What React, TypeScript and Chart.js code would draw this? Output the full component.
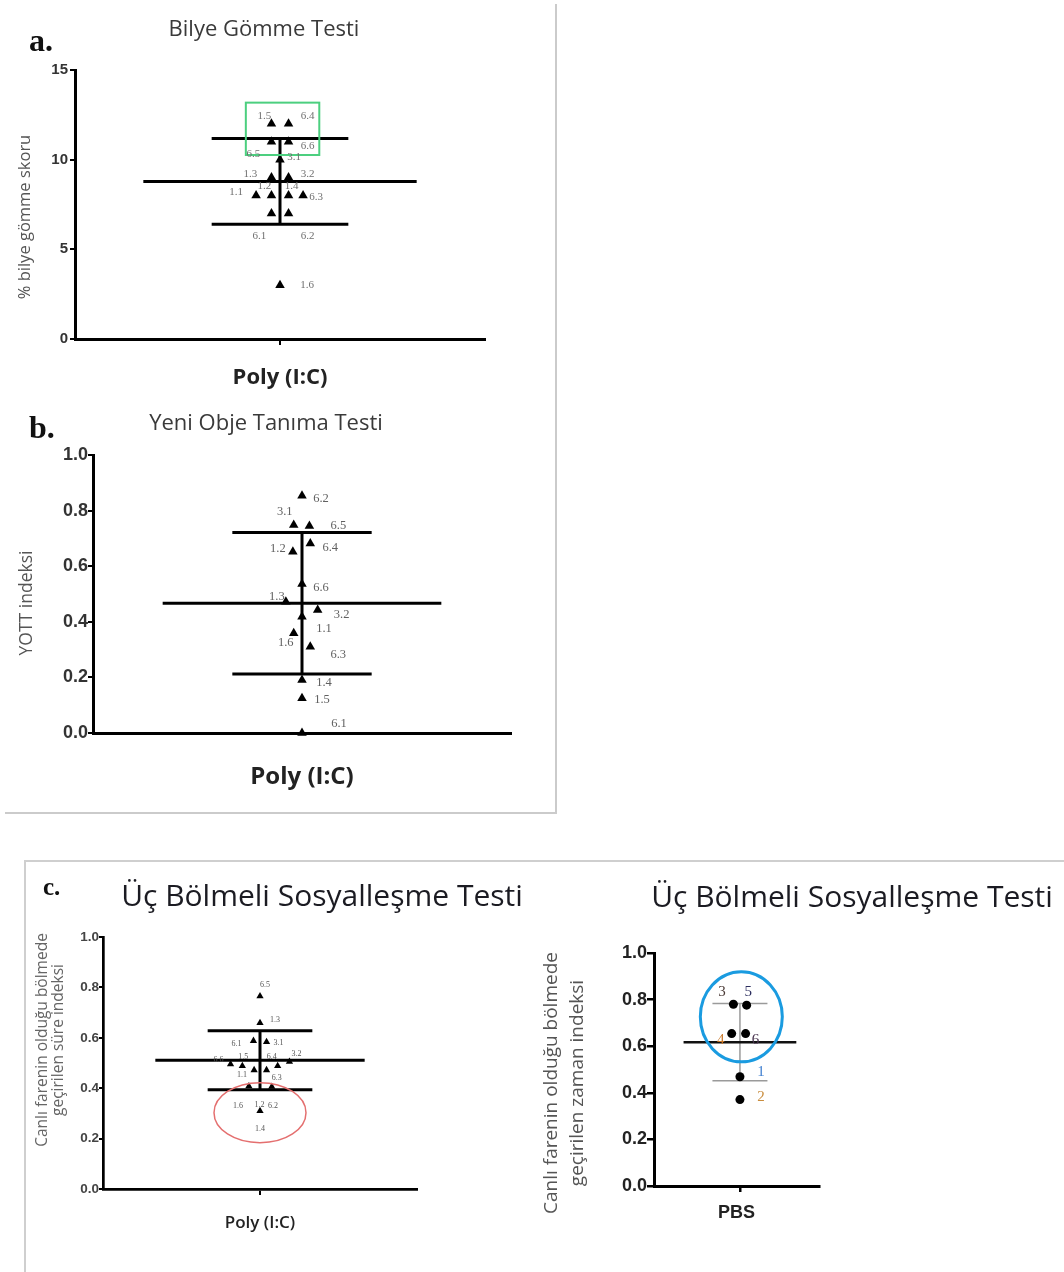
import React, { useEffect, useRef } from 'react';
import { Chart, registerables } from 'chart.js';

Chart.register(...registerables);

// ---------------- DATA ----------------
// a. Bilye Gömme Testi
const A_TITLE = 'Bilye Gömme Testi';
const A_CATEGORY = 'Poly (I:C)';
const A_Y_TITLE = ['% bilye gömme skoru'];
const A_IDS = ['1.5', '6.4', '6.5', '6.6', '3.1', '1.3', '3.2', '1.1', '1.2', '1.4', '6.3', '6.1', '6.2', '1.6'];
const A_VALUES = [12, 12, 11, 11, 10, 9, 9, 8, 8, 8, 8, 7, 7, 3];
const A_JITTER = [-1, 1, -1, 1, 0, -1, 1, -2.8, -1, 1, 2.7, -1, 1, 0];
const A_Y_TICKS = [0, 5, 10, 15];

// b. Yeni Obje Tanıma Testi
const B_TITLE = 'Yeni Obje Tanıma Testi';
const B_CATEGORY = 'Poly (I:C)';
const B_Y_TITLE = ['YOTT indeksi'];
const B_IDS = ['6.2', '3.1', '6.5', '1.2', '6.4', '6.6', '1.3', '3.2', '1.1', '1.6', '6.3', '1.4', '1.5', '6.1'];
const B_VALUES = [0.853, 0.748, 0.745, 0.652, 0.682, 0.536, 0.472, 0.442, 0.418, 0.359, 0.31, 0.191, 0.125, 0];
const B_JITTER = [0, -0.95, 0.85, -1.05, 0.95, 0, -1.85, 1.8, 0, -0.95, 0.95, 0, 0, 0];
const B_Y_TICKS = [0, 0.2, 0.4, 0.6, 0.8, 1.0];

// c. Üç Bölmeli Sosyalleşme Testi — Poly (I:C)
const C_TITLE = 'Üç Bölmeli Sosyalleşme Testi';
const C_CATEGORY = 'Poly (I:C)';
const C_Y_TITLE = ['Canlı farenin olduğu bölmede', 'geçirilen süre indeksi'];
const C_IDS = ['6.5', '1.3', '6.1', '3.1', '6.6', '1.5', '6.4', '3.2', '1.1', '1.2', '1.6', '6.3', '1.4'];
const C_EXTRA_IDS = ['6.2'];
const C_VALUES = [0.765, 0.659, 0.588, 0.584, 0.495, 0.488, 0.488, 0.505, 0.472, 0.472, 0.408, 0.406, 0.31];
const C_JITTER = [0, 0, -1, 1, -4.5, -2.7, 2.7, 4.5, -0.9, 1, -1.7, 1.8, 0];
const C_Y_TICKS = [0, 0.2, 0.4, 0.6, 0.8, 1.0];

// c. Üç Bölmeli Sosyalleşme Testi — PBS
const D_TITLE = 'Üç Bölmeli Sosyalleşme Testi';
const D_CATEGORY = 'PBS';
const D_Y_TITLE = ['Canlı farenin olduğu bölmede', 'geçirilen zaman indeksi'];
const D_IDS = ['3', '5', '4', '6', '1', '2'];
const D_VALUES = [0.78, 0.776, 0.654, 0.654, 0.469, 0.371];
const D_JITTER = [-1.9, 1.95, -2.4, 1.65, 0, 0];
const D_Y_TICKS = [0, 0.2, 0.4, 0.6, 0.8, 1.0];

// ---------------- LAYOUT / STYLE ----------------
const A_LABEL_OFFSETS: [number, number][] = [[-7, -8], [19, -8], [-18, 12], [19, 4], [14, -3], [-21, -3], [19, -3], [-20, -3], [-7, -9], [3, -9], [13, 2], [-12, 23], [19, 23], [27, 0]];
const B_LABEL_OFFSETS: [number, number][] = [[19, 3], [-9, -13], [29, 0], [-15, -3], [20, 4], [19, 4], [-9, -5], [24, 5], [22, 12], [-8, 10], [28, 8], [22, 3], [20, 1], [37, -9]];
const C_LABEL_OFFSETS: [number, number][] = [[5, -11], [15, -3], [-17, 3], [12, 1], [-12, -4], [1, -9], [-6, -9], [7, -8], [-12, 5], [-7, 35], [-11, 20], [5, -9], [0, 18]];
const C_EXTRA_POS: { point: number; dx: number; dy: number }[] = [{ point: 12, dx: 13, dy: -5 }];
const D_LABEL_OFFSETS: [number, number][] = [[-11.5, -12.3], [1.5, -13.3], [-11, 6.7], [10, 6.7], [21, -5], [21, -2.6]];
const D_LABEL_COLORS = ['#4a3a36', '#2b2d5e', '#c8782a', '#4a3550', '#3f7fd0', '#c98c3c'];

type Spec = {
  left: number; top: number; width: number; height: number;
  title: string; titleFont: any; titleColor: string; titlePad: { top: number; bottom: number };
  category: string; xLabelFont: any; xLabelColor: string;
  yTitle: string[]; yTitleX: number[]; yTitleCy: number; yTitleFont: string; yTitleColor: string;
  values: number[]; jitter: number[]; ids: string[]; labelOffsets: [number, number][];
  labelColors?: string[]; labelFont: string; labelColor: string;
  extra?: { text: string; point: number; dx: number; dy: number }[];
  yMax: number; yTicks: number[]; decimals: number;
  xMin: number; xMax: number; meanHalf: number; sdHalf: number;
  yAxisWidth: number; rightPad: number; xAxisHeight: number; bottomPad: number;
  tickFont: any; tickColor: string; tickPadding: number; tickLen: number; tickWidth: number;
  axisWidth: number; xCenterTick: boolean;
  pointStyle: string; pointRadius: number;
  meanWidth: number; meanColor: string; sdWidth: number; sdColor: string;
  ellipse?: { cx: number; cy: number; rx: number; ry: number; color: string; width: number };
  rect?: { x0: number; x1: number; y0: number; y1: number; color: string; width: number };
};

const decorPlugin = {
  id: 'panelDecor',
  afterDatasetsDraw(chart: any, _args: any, opts: any) {
    const spec: Spec | undefined = opts && opts.spec;
    if (!spec) return;
    const ctx = chart.ctx;
    const xs = chart.scales.x;
    const ys = chart.scales.y;
    if (spec.rect) {
      const r = spec.rect;
      const x0 = xs.getPixelForValue(r.x0), x1 = xs.getPixelForValue(r.x1);
      const y0 = ys.getPixelForValue(r.y0), y1 = ys.getPixelForValue(r.y1);
      ctx.save();
      ctx.strokeStyle = r.color;
      ctx.lineWidth = r.width;
      ctx.strokeRect(x0, y1, x1 - x0, y0 - y1);
      ctx.restore();
    }
    if (spec.ellipse) {
      const e = spec.ellipse;
      ctx.save();
      ctx.strokeStyle = e.color;
      ctx.lineWidth = e.width;
      ctx.beginPath();
      ctx.ellipse(xs.getPixelForValue(e.cx), ys.getPixelForValue(e.cy), e.rx, e.ry, 0, 0, Math.PI * 2);
      ctx.stroke();
      ctx.restore();
    }
    const meta = chart.getDatasetMeta(0);
    ctx.save();
    ctx.font = spec.labelFont;
    ctx.textAlign = 'center';
    ctx.textBaseline = 'middle';
    spec.ids.forEach((t, i) => {
      const el = meta.data[i];
      if (!el) return;
      const off = spec.labelOffsets[i] || [10, 0];
      ctx.fillStyle = spec.labelColors ? spec.labelColors[i] : spec.labelColor;
      ctx.fillText(t, el.x + off[0], el.y + off[1]);
    });
    (spec.extra || []).forEach((e) => {
      const el = meta.data[e.point];
      if (!el) return;
      ctx.fillStyle = spec.labelColor;
      ctx.fillText(e.text, el.x + e.dx, el.y + e.dy);
    });
    ctx.restore();
  },
  afterDraw(chart: any, _args: any, opts: any) {
    const spec: Spec | undefined = opts && opts.spec;
    if (!spec) return;
    const ctx = chart.ctx;
    ctx.save();
    ctx.font = spec.yTitleFont;
    ctx.fillStyle = spec.yTitleColor;
    ctx.textAlign = 'center';
    ctx.textBaseline = 'middle';
    spec.yTitle.forEach((line, i) => {
      ctx.save();
      ctx.translate(spec.yTitleX[i], spec.yTitleCy);
      ctx.rotate(-Math.PI / 2);
      ctx.fillText(line, 0, 0);
      ctx.restore();
    });
    ctx.restore();
  },
};

function buildConfig(spec: Spec): any {
  const n = spec.values.length;
  const mean = spec.values.reduce((a, b) => a + b, 0) / n;
  const sd = Math.sqrt(spec.values.reduce((a, b) => a + (b - mean) * (b - mean), 0) / (n - 1));
  const points = spec.values.map((v, i) => ({ x: spec.jitter[i], y: v }));
  const lineDs = (data: any[], color: string, width: number) => ({
    data, showLine: true, pointRadius: 0, borderColor: color, borderWidth: width, clip: false, borderCapStyle: 'butt',
  });
  return {
    type: 'scatter',
    data: {
      datasets: [
        { data: points, pointStyle: spec.pointStyle, pointRadius: spec.pointRadius, backgroundColor: '#000', borderColor: '#000', borderWidth: 0, clip: false },
        lineDs([{ x: -spec.meanHalf, y: mean }, { x: spec.meanHalf, y: mean }], spec.meanColor, spec.meanWidth),
        lineDs([{ x: -spec.sdHalf, y: mean + sd }, { x: spec.sdHalf, y: mean + sd }], spec.sdColor, spec.sdWidth),
        lineDs([{ x: -spec.sdHalf, y: mean - sd }, { x: spec.sdHalf, y: mean - sd }], spec.sdColor, spec.sdWidth),
        lineDs([{ x: 0, y: mean - sd }, { x: 0, y: mean + sd }], spec.sdColor, spec.sdWidth),
      ],
    },
    options: {
      animation: false,
      responsive: false,
      maintainAspectRatio: false,
      devicePixelRatio: 1,
      events: [],
      layout: { padding: { left: 0, right: 0, top: 0, bottom: spec.bottomPad } },
      plugins: {
        legend: { display: false },
        tooltip: { enabled: false },
        title: {
          display: true, text: spec.title, color: spec.titleColor, font: spec.titleFont,
          padding: spec.titlePad,
        },
        panelDecor: { spec },
      },
      scales: {
        x: {
          type: 'linear', min: spec.xMin, max: spec.xMax,
          afterFit: (s: any) => { s.height = spec.xAxisHeight; },
          afterBuildTicks: (s: any) => { s.ticks = spec.xCenterTick ? [{ value: 0 }] : []; },
          ticks: { display: false },
          grid: { display: true, drawOnChartArea: false, drawTicks: true, tickLength: 6, color: '#000', lineWidth: spec.tickWidth },
          border: { display: true, color: '#000', width: spec.axisWidth },
          title: { display: true, text: spec.category, color: spec.xLabelColor, font: spec.xLabelFont, padding: 0 },
        },
        y: {
          type: 'linear', min: 0, max: spec.yMax,
          afterFit: (s: any) => { s.width = spec.yAxisWidth; },
          afterBuildTicks: (s: any) => { s.ticks = spec.yTicks.map((v) => ({ value: v })); },
          ticks: {
            font: spec.tickFont, color: spec.tickColor, padding: spec.tickPadding,
            callback: (v: any) => Number(v).toFixed(spec.decimals),
          },
          grid: { display: true, drawOnChartArea: false, drawTicks: true, tickLength: spec.tickLen, color: '#000', lineWidth: spec.tickWidth },
          border: { display: true, color: '#000', width: spec.axisWidth },
        },
        yr: {
          type: 'linear', position: 'right', display: true,
          afterFit: (s: any) => { s.width = spec.rightPad; },
          ticks: { display: false },
          grid: { display: false },
          border: { display: false },
        },
      },
    },
    plugins: [decorPlugin],
  };
}

const SANS = "'Open Sans', 'Noto Sans', sans-serif";
const ARIAL = "'Liberation Sans', Arial, sans-serif";
const SERIF = "'Liberation Serif', 'DejaVu Serif', serif";

const SPEC_A: Spec = {
  left: 0, top: 0, width: 528, height: 400,
  title: A_TITLE, titleFont: { family: SANS, size: 22, weight: 'normal', lineHeight: 1 }, titleColor: '#3a3a3a', titlePad: { top: 19, bottom: 29 },
  category: A_CATEGORY, xLabelFont: { family: SANS, size: 22, weight: 'bold', lineHeight: 1.2 }, xLabelColor: '#222',
  yTitle: A_Y_TITLE, yTitleX: [25], yTitleCy: 217, yTitleFont: `16.5px ${SANS}`, yTitleColor: '#555',
  values: A_VALUES, jitter: A_JITTER, ids: A_IDS, labelOffsets: A_LABEL_OFFSETS, labelFont: `11px ${SERIF}`, labelColor: '#707070',
  yMax: 15, yTicks: A_Y_TICKS, decimals: 0,
  xMin: -24, xMax: 24, meanHalf: 16, sdHalf: 8,
  yAxisWidth: 75, rightPad: 43, xAxisHeight: 52, bottomPad: 9,
  tickFont: { family: ARIAL, size: 15, weight: 'bold' }, tickColor: '#333', tickPadding: 2, tickLen: 5, tickWidth: 2,
  axisWidth: 3, xCenterTick: true,
  pointStyle: 'triangle', pointRadius: 5.5,
  meanWidth: 3, meanColor: '#000', sdWidth: 3, sdColor: '#000',
  rect: { x0: -4, x1: 4.6, y0: 10.26, y1: 13.18, color: '#4ccf7f', width: 2 },
};

const SPEC_B: Spec = {
  left: 0, top: 400, width: 532, height: 410,
  title: B_TITLE, titleFont: { family: SANS, size: 22, weight: 'normal', lineHeight: 1 }, titleColor: '#3a3a3a', titlePad: { top: 13, bottom: 20 },
  category: B_CATEGORY, xLabelFont: { family: SANS, size: 24, weight: 'bold', lineHeight: 1.2 }, xLabelColor: '#222',
  yTitle: B_Y_TITLE, yTitleX: [27], yTitleCy: 203, yTitleFont: `17.5px ${SANS}`, yTitleColor: '#555',
  values: B_VALUES, jitter: B_JITTER, ids: B_IDS, labelOffsets: B_LABEL_OFFSETS, labelFont: `12.5px ${SERIF}`, labelColor: '#606060',
  yMax: 1, yTicks: B_Y_TICKS, decimals: 1,
  xMin: -24, xMax: 24, meanHalf: 16, sdHalf: 8,
  yAxisWidth: 93, rightPad: 21, xAxisHeight: 59, bottomPad: 18,
  tickFont: { family: ARIAL, size: 18, weight: 'bold' }, tickColor: '#333', tickPadding: 0, tickLen: 5, tickWidth: 2,
  axisWidth: 3, xCenterTick: false,
  pointStyle: 'triangle', pointRadius: 5.5,
  meanWidth: 3, meanColor: '#000', sdWidth: 3, sdColor: '#000',
};

const SPEC_C: Spec = {
  left: 26, top: 862, width: 592, height: 400,
  title: C_TITLE, titleFont: { family: SANS, size: 30, weight: 'normal', lineHeight: 1 }, titleColor: '#1b1b22', titlePad: { top: 20, bottom: 25 },
  category: C_CATEGORY, xLabelFont: { family: SANS, size: 17, weight: '600', lineHeight: 1.2 }, xLabelColor: '#222',
  yTitle: C_Y_TITLE, yTitleX: [17, 32.5], yTitleCy: 178, yTitleFont: `15.5px ${SANS}`, yTitleColor: '#666',
  values: C_VALUES, jitter: C_JITTER, ids: C_IDS, labelOffsets: C_LABEL_OFFSETS, labelFont: `8px ${SERIF}`, labelColor: '#555',
  extra: C_EXTRA_IDS.map((t, i) => ({ text: t, ...C_EXTRA_POS[i] })),
  yMax: 1, yTicks: C_Y_TICKS, decimals: 1,
  xMin: -24, xMax: 24, meanHalf: 16, sdHalf: 8,
  yAxisWidth: 77, rightPad: 201, xAxisHeight: 44, bottomPad: 29,
  tickFont: { family: ARIAL, size: 13.5, weight: 'bold' }, tickColor: '#444', tickPadding: 0, tickLen: 4, tickWidth: 2,
  axisWidth: 2.7, xCenterTick: true,
  pointStyle: 'triangle', pointRadius: 4.2,
  meanWidth: 3, meanColor: '#000', sdWidth: 3, sdColor: '#000',
  ellipse: { cx: 0, cy: 0.303, rx: 46, ry: 30, color: '#e46f6f', width: 1.5 },
};

const SPEC_D: Spec = {
  left: 540, top: 862, width: 624, height: 400,
  title: D_TITLE, titleFont: { family: SANS, size: 30, weight: 'normal', lineHeight: 1 }, titleColor: '#1b1b22', titlePad: { top: 21, bottom: 40 },
  category: D_CATEGORY, xLabelFont: { family: ARIAL, size: 18, weight: 'bold', lineHeight: 1.2 }, xLabelColor: '#222',
  yTitle: D_Y_TITLE, yTitleX: [12, 38], yTitleCy: 221, yTitleFont: `19px ${SANS}`, yTitleColor: '#555',
  values: D_VALUES, jitter: D_JITTER, ids: D_IDS, labelOffsets: D_LABEL_OFFSETS, labelColors: D_LABEL_COLORS, labelFont: `15px ${SERIF}`, labelColor: '#2b2d5e',
  yMax: 1, yTicks: D_Y_TICKS, decimals: 1,
  xMin: -25, xMax: 23, meanHalf: 16.4, sdHalf: 8,
  yAxisWidth: 114, rightPad: 345, xAxisHeight: 38, bottomPad: 38,
  tickFont: { family: ARIAL, size: 18, weight: 'bold' }, tickColor: '#222', tickPadding: 0, tickLen: 7, tickWidth: 2.5,
  axisWidth: 3, xCenterTick: true,
  pointStyle: 'circle', pointRadius: 4.5,
  meanWidth: 2.5, meanColor: '#111', sdWidth: 1.5, sdColor: '#9a9a9a',
  ellipse: { cx: 0.4, cy: 0.726, rx: 41, ry: 45, color: '#1a9be0', width: 3 },
};

function Panel({ spec }: { spec: Spec }) {
  const ref = useRef<HTMLCanvasElement | null>(null);
  useEffect(() => {
    if (!ref.current) return;
    const chart = new Chart(ref.current, buildConfig(spec));
    return () => chart.destroy();
  }, [spec]);
  return (
    <canvas
      ref={ref}
      width={spec.width}
      height={spec.height}
      style={{ position: 'absolute', left: spec.left, top: spec.top, width: spec.width, height: spec.height }}
    />
  );
}

const letterStyle = (left: number, top: number, size: number): React.CSSProperties => ({
  position: 'absolute', left, top, fontFamily: SERIF, fontWeight: 'bold', fontSize: size, lineHeight: 1, color: '#111',
});

export default function App() {
  return (
    <div style={{ position: 'absolute', left: 0, top: 0, width: 1064, height: 1272, overflow: 'hidden', background: '#fff' }}>
      <div style={{ position: 'absolute', left: 555, top: 4, width: 2, height: 810, background: '#cbcbcb' }} />
      <div style={{ position: 'absolute', left: 5, top: 812, width: 552, height: 2, background: '#cbcbcb' }} />
      <div style={{ position: 'absolute', left: 24, top: 860, width: 1040, height: 1.5, background: '#cfcfcf' }} />
      <div style={{ position: 'absolute', left: 24, top: 860, width: 1.5, height: 412, background: '#cfcfcf' }} />
      <Panel spec={SPEC_A} />
      <Panel spec={SPEC_B} />
      <Panel spec={SPEC_C} />
      <Panel spec={SPEC_D} />
      <div style={letterStyle(29, 24, 32)}>a.</div>
      <div style={letterStyle(29, 411, 32)}>b.</div>
      <div style={letterStyle(43, 874, 25)}>c.</div>
    </div>
  );
}
